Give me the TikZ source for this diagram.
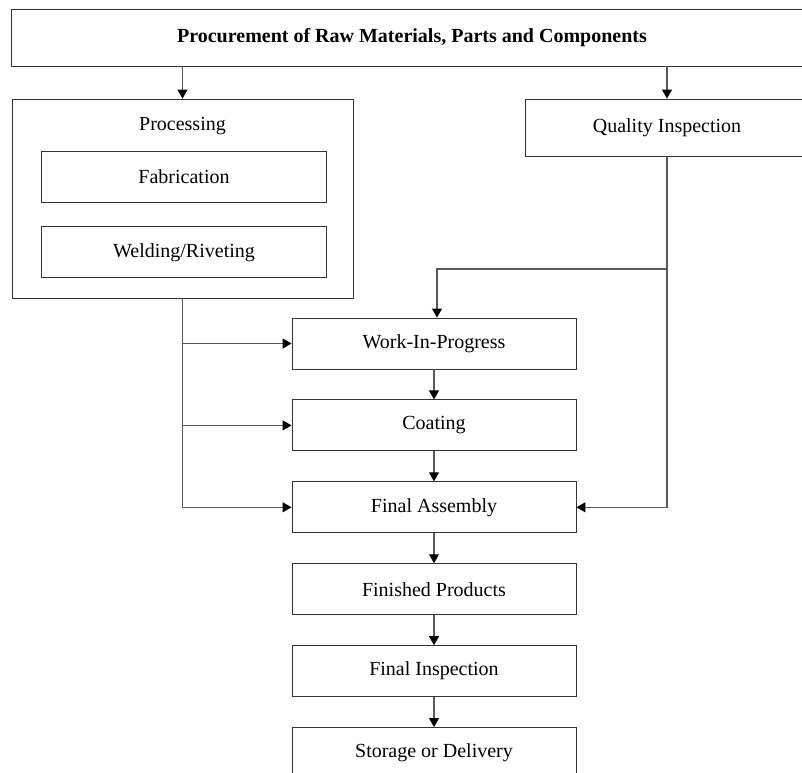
\documentclass[tikz,border=0pt]{standalone}
\usepackage{fontspec}
\setmainfont{Liberation Serif}
\usetikzlibrary{positioning, arrows.meta}

\tikzset{
  txt/.style={font=\fontsize{20}{24}\selectfont},
  block/.style={txt, draw=black!80, line width=0.9pt, minimum width=284pt,
    minimum height=51pt, inner sep=0pt},
  flow/.style={-{Triangle[length=9pt,width=10pt,color=black]}, draw=black!65,
    line width=1.1pt},
}

\begin{document}
\begin{tikzpicture}[x=1pt, y=-1pt, node distance=30pt]
  \useasboundingbox (0,0) rectangle (802,772);
  \clip (0,0) rectangle (802,772);

  % top row
  \node[block, minimum width=802pt, minimum height=57pt,
    font=\fontsize{20}{24}\selectfont\bfseries] (procure) at (412,37.5)
    {Procurement of Raw Materials, Parts and Components};

  % processing group
  \node[block, minimum width=341pt, minimum height=199pt] (proc) at (182.5,198.5) {};
  \node[txt] (proctxt) at (182.5,126) {Processing};
  \node[block, minimum width=285pt] (fab) at (184,176.5) {Fabrication};
  \node[block, minimum width=285pt] (weld) [below=24pt of fab] {Welding/Riveting};

  \node[block, minimum height=57pt] (qual) at (667,127.5) {Quality Inspection};

  % main column
  \node[block] (wip) at (434,343.5) {Work-In-Progress};
  \node[block] (coat) [below=of wip] {Coating};
  \node[block] (assy) [below=of coat] {Final Assembly};
  \node[block] (fin) [below=of assy] {Finished Products};
  \node[block] (finsp) [below=of fin] {Final Inspection};
  \node[block] (store) [below=of finsp] {Storage or Delivery};

  \coordinate (qsplit) at (667,269);

  \draw[flow] (procure.south -| proc.north) -- (proc.north);
  \draw[flow] (procure.south -| qual.north) -- (qual.north);
  \draw[flow] (qual.south) -- (qsplit) -| ([xshift=3pt]wip.north);
  \draw[flow] (qsplit) |- (assy.east);
  \draw[flow] (proc.south) |- (assy.west);
  \draw[flow] (proc.south |- wip.west) -- (wip.west);
  \draw[flow] (proc.south |- coat.west) -- (coat.west);

  \path[flow]
    (wip) edge (coat)
    (coat) edge (assy)
    (assy) edge (fin)
    (fin) edge (finsp)
    (finsp) edge (store);
\end{tikzpicture}
\end{document}
